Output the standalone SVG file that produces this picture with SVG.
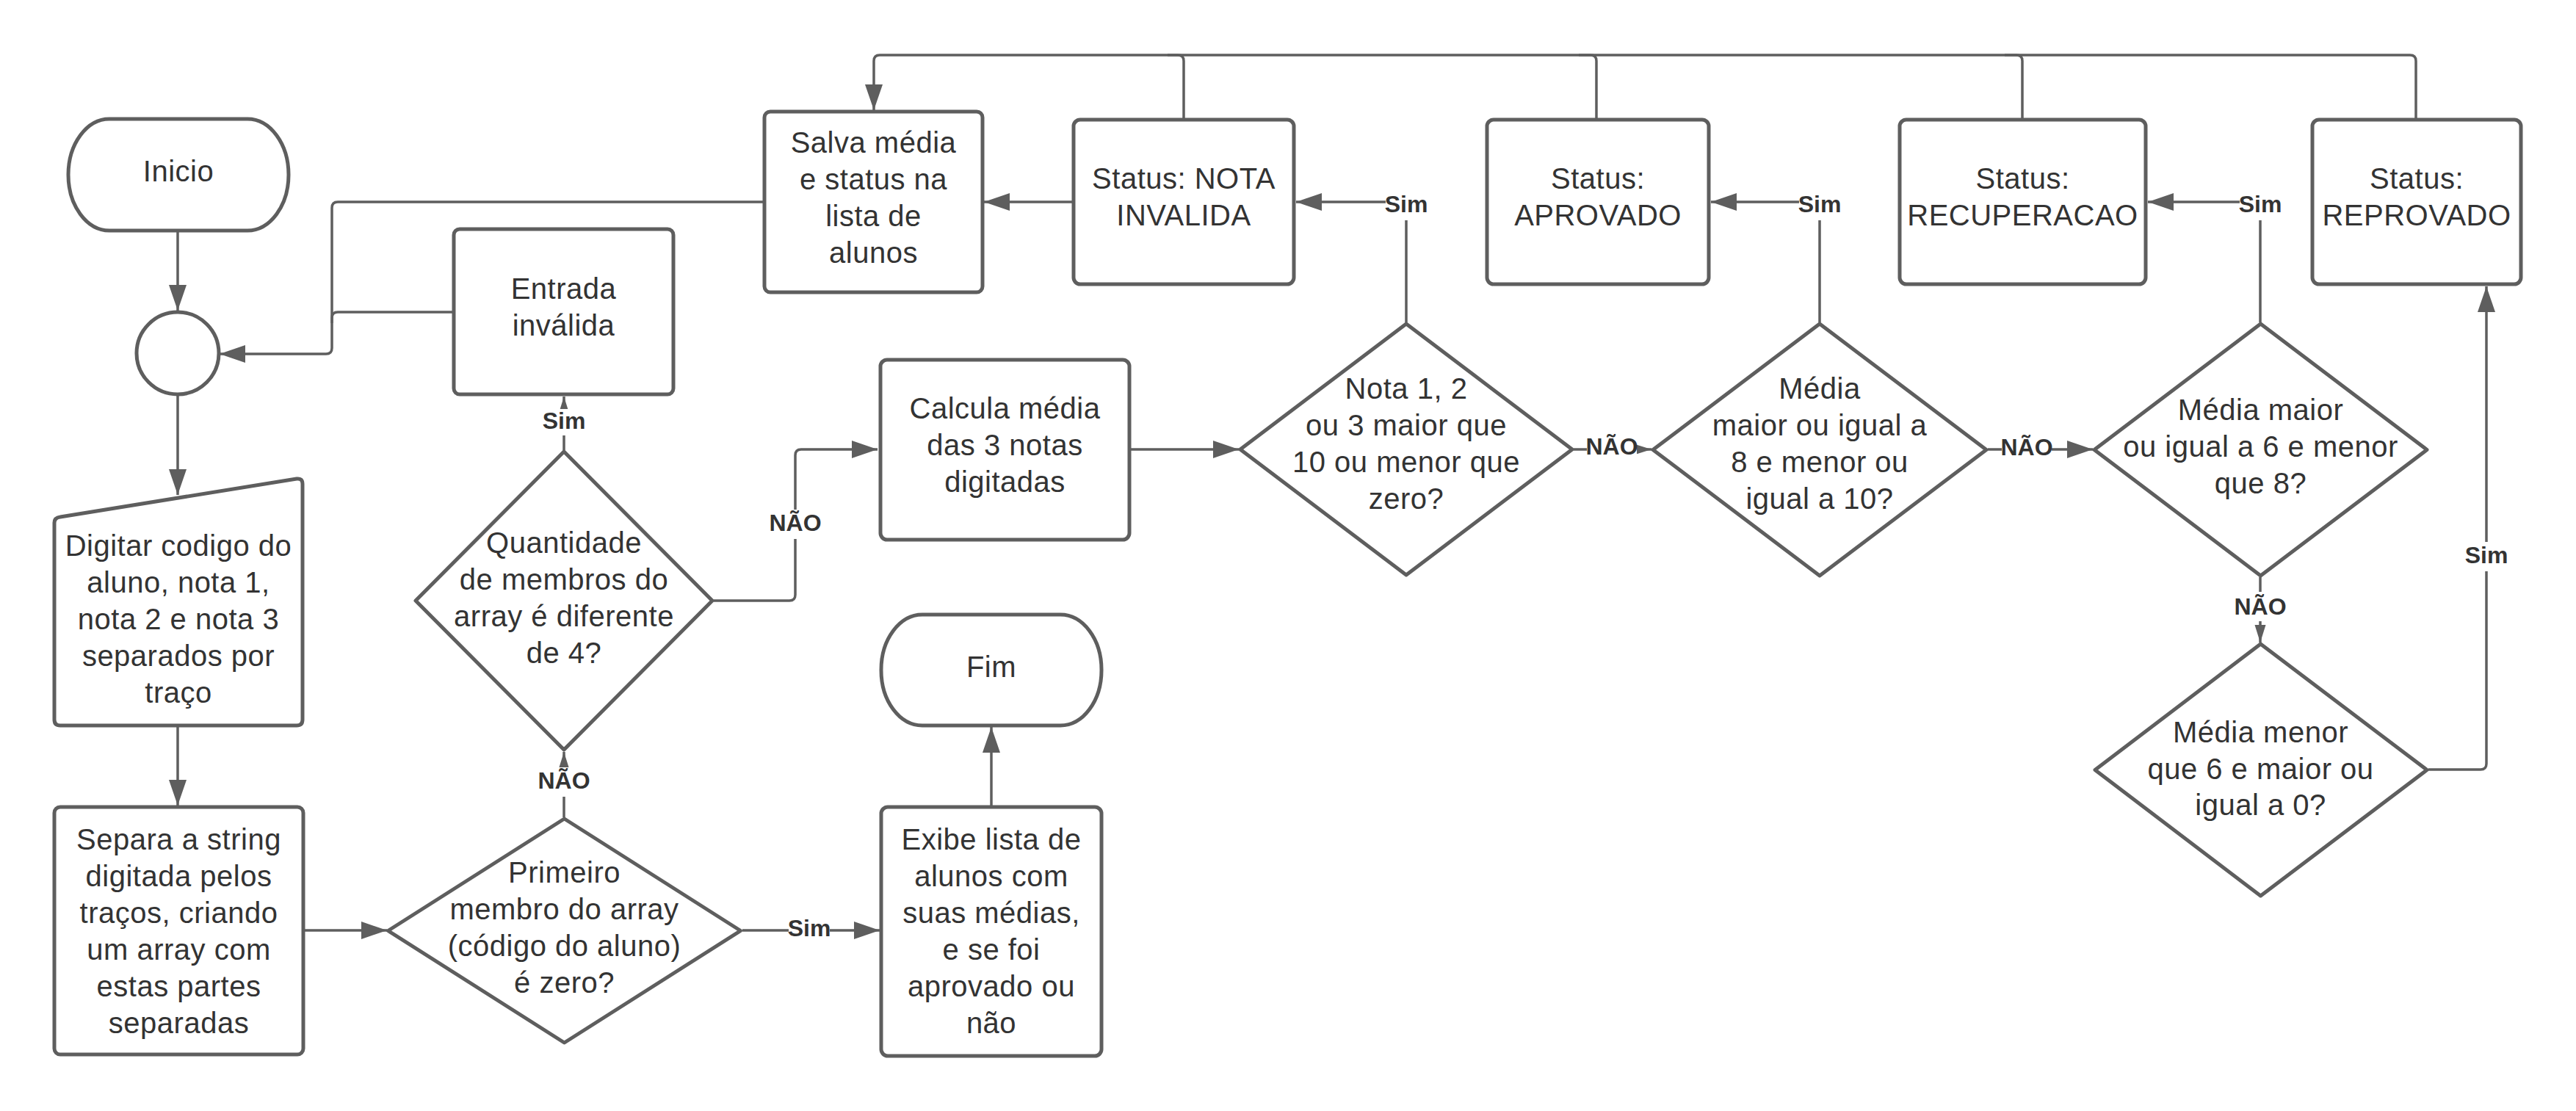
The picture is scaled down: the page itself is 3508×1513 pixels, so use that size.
<svg xmlns="http://www.w3.org/2000/svg" width="3508" height="1513" viewBox="0 0 3508 1513">
<style>
.nd{fill:#ffffff;stroke:#5e5e5e;stroke-width:5;stroke-linejoin:round}
.t{font-family:"Liberation Sans",Arial,sans-serif;font-size:40px;letter-spacing:0.5px;fill:#333333;text-anchor:middle}
.c{fill:none;stroke:#5e5e5e;stroke-width:3.5}
.lb{font-family:"Liberation Sans",Arial,sans-serif;font-size:32px;font-weight:bold;fill:#333333;text-anchor:middle}
.bg{fill:#ffffff}
</style>
<defs>
<marker id="a" markerUnits="userSpaceOnUse" markerWidth="36" markerHeight="26" refX="35" refY="12" orient="auto"><path d="M0,0 L35,12 L0,24 Z" fill="#5e5e5e"/></marker>
<marker id="s" markerUnits="userSpaceOnUse" markerWidth="26" markerHeight="16" refX="24" refY="7.5" orient="auto"><path d="M0,0 L24,7.5 L0,15 Z" fill="#5e5e5e"/></marker>
</defs>
<rect width="3508" height="1513" fill="#ffffff"/>
<g id="connectors">
<path class="c" d="M242,316 V423" marker-end="url(#a)"/>
<path class="c" d="M242,539 V674" marker-end="url(#a)"/>
<path class="c" d="M242,990 V1097" marker-end="url(#a)"/>
<path class="c" d="M414,1267 H527" marker-end="url(#a)"/>
<path class="c" d="M1011,1267 H1198" marker-end="url(#a)"/>
<path class="c" d="M768,1113 V1024" marker-end="url(#s)"/>
<path class="c" d="M768,613 V540" marker-end="url(#s)"/>
<path class="c" d="M972,818 H1075 Q1083,818 1083,810 V620 Q1083,612 1091,612 H1195" marker-end="url(#a)"/>
<path class="c" d="M616,425 H460 Q452,425 452,433 V474 Q452,482 444,482 H299" marker-end="url(#a)"/>
<path class="c" d="M1039,275 H460 Q452,275 452,283 V440"/>
<path class="c" d="M1540,612 H1687" marker-end="url(#a)"/>
<path class="c" d="M2143,612 H2249" marker-end="url(#s)"/>
<path class="c" d="M2707,612 H2850" marker-end="url(#a)"/>
<path class="c" d="M3078,786 V875" marker-end="url(#s)"/>
<path class="c" d="M3307,1048 H3378 Q3386,1048 3386,1040 V390" marker-end="url(#a)"/>
<path class="c" d="M1915,439 V275 H1765" marker-end="url(#a)"/>
<path class="c" d="M2478,439 V275 H2330" marker-end="url(#a)"/>
<path class="c" d="M3078,439 V275 H2925" marker-end="url(#a)"/>
<path class="c" d="M1460,275 H1340" marker-end="url(#a)"/>
<path class="c" d="M3290,161 V83 Q3290,75 3282,75 H1198 Q1190,75 1190,83 V150" marker-end="url(#a)"/>
<path class="c" d="M1612,161 V83 Q1612,75 1604,75 H1590"/>
<path class="c" d="M2174,161 V83 Q2174,75 2166,75 H2150"/>
<path class="c" d="M2754,161 V83 Q2754,75 2746,75 H2730"/>
<path class="c" d="M1350,1097 V990" marker-end="url(#a)"/>
<g id="labels">
<rect class="bg" x="740" y="557" width="56" height="36"/><text class="lb" x="768" y="584">Sim</text>
<rect class="bg" x="734" y="1045" width="68" height="40"/><text class="lb" x="768" y="1074">NÃO</text>
<rect class="bg" x="1049" y="694" width="68" height="40"/><text class="lb" x="1083" y="723">NÃO</text>
<rect class="bg" x="1074" y="1249" width="56" height="34"/><text class="lb" x="1102" y="1275">Sim</text>
<rect class="bg" x="1887" y="260" width="56" height="40"/><text class="lb" x="1915" y="289">Sim</text>
<rect class="bg" x="2450" y="260" width="56" height="40"/><text class="lb" x="2478" y="289">Sim</text>
<rect class="bg" x="3050" y="260" width="56" height="40"/><text class="lb" x="3078" y="289">Sim</text>
<rect class="bg" x="2161" y="592" width="68" height="38"/><text class="lb" x="2195" y="619">NÃO</text>
<rect class="bg" x="2726" y="593" width="68" height="38"/><text class="lb" x="2760" y="620">NÃO</text>
<rect class="bg" x="3044" y="806" width="68" height="40"/><text class="lb" x="3078" y="837">NÃO</text>
<rect class="bg" x="3358" y="738" width="56" height="40"/><text class="lb" x="3386" y="767">Sim</text>
</g>
</g>
<g id="inicio"><rect class="nd" x="93" y="162" width="300" height="152" rx="56" ry="76"/><text class="t" x="243" y="247">Inicio</text></g>
<g id="juncao"><circle class="nd" cx="242" cy="481" r="56"/></g>
<g id="digitar"><path class="nd" d="M82,704 L404,652 Q412,651 412,659 L412,980 Q412,988 404,988 L82,988 Q74,988 74,980 L74,712 Q74,705 82,704 Z"/><text class="t"><tspan x="243" y="757">Digitar codigo do</tspan><tspan x="243" y="807">aluno, nota 1,</tspan><tspan x="243" y="857">nota 2 e nota 3</tspan><tspan x="243" y="907">separados por</tspan><tspan x="243" y="957">traço</tspan></text></g>
<g id="separa"><rect class="nd" x="74" y="1099" width="339" height="337" rx="8"/><text class="t"><tspan x="243.5" y="1157">Separa a string</tspan><tspan x="243.5" y="1207">digitada pelos</tspan><tspan x="243.5" y="1257">traços, criando</tspan><tspan x="243.5" y="1307">um array com</tspan><tspan x="243.5" y="1357">estas partes</tspan><tspan x="243.5" y="1407">separadas</tspan></text></g>
<g id="primeiro"><path class="nd" d="M528.5,1267.5 L768.5,1115 L1008.5,1267.5 L768.5,1420 Z"/><text class="t"><tspan x="768.5" y="1202">Primeiro</tspan><tspan x="768.5" y="1252">membro do array</tspan><tspan x="768.5" y="1302">(código do aluno)</tspan><tspan x="768.5" y="1352">é zero?</tspan></text></g>
<g id="quantidade"><path class="nd" d="M566,818 L768,615 L970,818 L768,1021 Z"/><text class="t"><tspan x="768" y="753">Quantidade</tspan><tspan x="768" y="803">de membros do</tspan><tspan x="768" y="853">array é diferente</tspan><tspan x="768" y="903">de 4?</tspan></text></g>
<g id="entrada"><rect class="nd" x="618" y="312" width="299" height="225" rx="8"/><text class="t"><tspan x="767.5" y="407">Entrada</tspan><tspan x="767.5" y="457">inválida</tspan></text></g>
<g id="salva"><rect class="nd" x="1041" y="152" width="297" height="246" rx="8"/><text class="t"><tspan x="1189.5" y="208">Salva média</tspan><tspan x="1189.5" y="258">e status na</tspan><tspan x="1189.5" y="308">lista de</tspan><tspan x="1189.5" y="358">alunos</tspan></text></g>
<g id="nota-invalida"><rect class="nd" x="1462" y="163" width="300" height="224" rx="9"/><text class="t"><tspan x="1612" y="257">Status: NOTA</tspan><tspan x="1612" y="307">INVALIDA</tspan></text></g>
<g id="aprovado"><rect class="nd" x="2025" y="163" width="302" height="224" rx="9"/><text class="t"><tspan x="2176" y="257">Status:</tspan><tspan x="2176" y="307">APROVADO</tspan></text></g>
<g id="recuperacao"><rect class="nd" x="2587" y="163" width="335" height="224" rx="9"/><text class="t"><tspan x="2754.5" y="257">Status:</tspan><tspan x="2754.5" y="307">RECUPERACAO</tspan></text></g>
<g id="reprovado"><rect class="nd" x="3149" y="163" width="284" height="224" rx="9"/><text class="t"><tspan x="3291" y="257">Status:</tspan><tspan x="3291" y="307">REPROVADO</tspan></text></g>
<g id="calcula"><rect class="nd" x="1199" y="490" width="339" height="245" rx="9"/><text class="t"><tspan x="1368.5" y="570">Calcula média</tspan><tspan x="1368.5" y="620">das 3 notas</tspan><tspan x="1368.5" y="670">digitadas</tspan></text></g>
<g id="decisao-nota"><path class="nd" d="M1689,612 L1915,441 L2141,612 L1915,783 Z"/><text class="t"><tspan x="1915" y="543">Nota 1, 2</tspan><tspan x="1915" y="593">ou 3 maior que</tspan><tspan x="1915" y="643">10 ou menor que</tspan><tspan x="1915" y="693">zero?</tspan></text></g>
<g id="decisao-aprovado"><path class="nd" d="M2251,612.5 L2478,441 L2705,612.5 L2478,784 Z"/><text class="t"><tspan x="2478" y="543">Média</tspan><tspan x="2478" y="593">maior ou igual a</tspan><tspan x="2478" y="643">8 e menor ou</tspan><tspan x="2478" y="693">igual a 10?</tspan></text></g>
<g id="decisao-recuperacao"><path class="nd" d="M2852,612.5 L3078.5,441 L3305,612.5 L3078.5,784 Z"/><text class="t"><tspan x="3078.5" y="572">Média maior</tspan><tspan x="3078.5" y="622">ou igual a 6 e menor</tspan><tspan x="3078.5" y="672">que 8?</tspan></text></g>
<g id="decisao-reprovado"><path class="nd" d="M2853,1048.5 L3078.5,877 L3305,1048.5 L3078.5,1220 Z"/><text class="t"><tspan x="3078.5" y="1011">Média menor</tspan><tspan x="3078.5" y="1061">que 6 e maior ou</tspan><tspan x="3078.5" y="1110">igual a 0?</tspan></text></g>
<g id="fim"><rect class="nd" x="1200" y="837" width="300" height="151" rx="56" ry="75"/><text class="t" x="1350" y="922">Fim</text></g>
<g id="exibe"><rect class="nd" x="1200" y="1099" width="300" height="339" rx="9"/><text class="t"><tspan x="1350" y="1157">Exibe lista de</tspan><tspan x="1350" y="1207">alunos com</tspan><tspan x="1350" y="1257">suas médias,</tspan><tspan x="1350" y="1307">e se foi</tspan><tspan x="1350" y="1357">aprovado ou</tspan><tspan x="1350" y="1407">não</tspan></text></g>
</svg>
